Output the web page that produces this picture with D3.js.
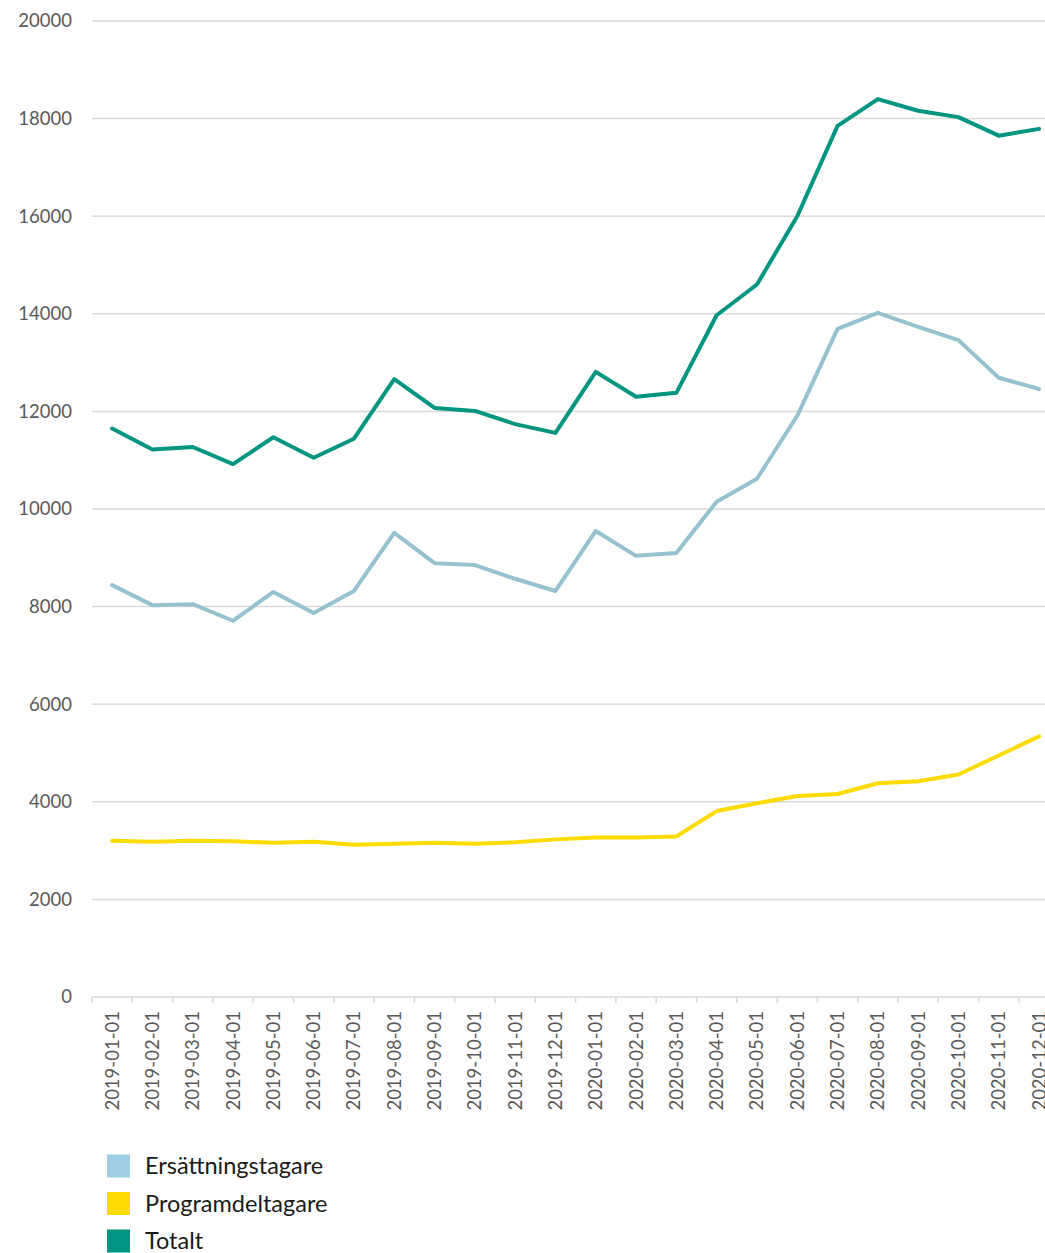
<!DOCTYPE html>
<html>
<head>
<meta charset="utf-8">
<script src="https://cdn.jsdelivr.net/npm/d3@7"></script>
<style>
  body { margin: 0; background: #fff; font-family: Lato, "Open Sans", sans-serif; }
  svg { display: block; }
</style>
</head>
<body>
<div id="chart"></div>
<script>
//******************************************************************************
//**  Data
//******************************************************************************
var months = [
    "2019-01-01","2019-02-01","2019-03-01","2019-04-01","2019-05-01","2019-06-01",
    "2019-07-01","2019-08-01","2019-09-01","2019-10-01","2019-11-01","2019-12-01",
    "2020-01-01","2020-02-01","2020-03-01","2020-04-01","2020-05-01","2020-06-01",
    "2020-07-01","2020-08-01","2020-09-01","2020-10-01","2020-11-01","2020-12-01"
];
var ersattningstagare = [
    8440, 8030, 8050, 7710, 8300, 7870, 8320, 9510, 8890, 8850, 8570, 8320,
    9550, 9040, 9100, 10150, 10620, 11910, 13690, 14020, 13730, 13460, 12690, 12460
];
var programdeltagare = [
    3200, 3180, 3200, 3190, 3160, 3180, 3120, 3140, 3160, 3140, 3170, 3230,
    3270, 3270, 3290, 3810, 3970, 4120, 4160, 4380, 4420, 4560, 4950, 5340
];
var totalt = [
    11650, 11220, 11270, 10920, 11470, 11050, 11440, 12660, 12070, 12010, 11740, 11560,
    12810, 12300, 12380, 13970, 14600, 16000, 17850, 18400, 18160, 18030, 17650, 17790
];
var yTicks = [0, 2000, 4000, 6000, 8000, 10000, 12000, 14000, 16000, 18000, 20000];

var series = [
    {name: "Ersättningstagare", values: ersattningstagare, color: "#96c2d0", swatch: "#9ecde4"},
    {name: "Programdeltagare", values: programdeltagare, color: "#fddb00", swatch: "#fddb00"},
    {name: "Totalt", values: totalt, color: "#009580", swatch: "#009580"}
];


//******************************************************************************
//**  Chart
//******************************************************************************
var width = 1045, height = 1253;
var plotLeft = 92, plotTop = 21, plotBottom = 997;
var bandWidth = 40.3;

var svg = d3.select("#chart").append("svg")
    .attr("width", width)
    .attr("height", height);

var x = d3.scaleBand()
    .domain(months)
    .range([plotLeft, plotLeft + bandWidth * months.length])
    .paddingInner(0).paddingOuter(0);

var y = d3.scaleLinear()
    .domain([0, 20000])
    .range([plotBottom, plotTop]);

// gridlines
svg.append("g")
    .selectAll("line")
    .data(yTicks.filter(function(d){ return d > 0; }))
    .join("line")
    .attr("x1", plotLeft).attr("x2", width)
    .attr("y1", function(d){ return y(d); })
    .attr("y2", function(d){ return y(d); })
    .attr("stroke", "#d9d9d9")
    .attr("stroke-width", 1.5);

// y labels
svg.append("g")
    .selectAll("text")
    .data(yTicks)
    .join("text")
    .attr("x", 72)
    .attr("y", function(d){ return y(d); })
    .attr("dy", "0.35em")
    .attr("text-anchor", "end")
    .attr("fill", "#595959")
    .style("font-size", "18.5px")
    .text(function(d){ return d; });

// x axis
var xAxis = svg.append("g");
xAxis.append("line")
    .attr("x1", plotLeft).attr("x2", width)
    .attr("y1", plotBottom).attr("y2", plotBottom)
    .attr("stroke", "#d9d9d9")
    .attr("stroke-width", 1.5);

xAxis.selectAll("line.tick")
    .data(months)
    .join("line")
    .attr("class", "tick")
    .attr("x1", function(d){ return x(d); })
    .attr("x2", function(d){ return x(d); })
    .attr("y1", plotBottom).attr("y2", plotBottom + 6)
    .attr("stroke", "#d9d9d9")
    .attr("stroke-width", 1.5);

xAxis.selectAll("text")
    .data(months)
    .join("text")
    .attr("transform", function(d){
        return "translate(" + (x(d) + x.bandwidth()/2) + "," + (plotBottom + 14) + ") rotate(-90)";
    })
    .attr("dy", "0.35em")
    .attr("text-anchor", "end")
    .attr("fill", "#595959")
    .style("font-size", "18.5px")
    .text(function(d){ return d; });

// lines
var line = d3.line()
    .x(function(d, i){ return x(months[i]) + x.bandwidth()/2; })
    .y(function(d){ return y(d); });

svg.append("g")
    .selectAll("path")
    .data(series)
    .join("path")
    .attr("d", function(s){ return line(s.values); })
    .attr("fill", "none")
    .attr("stroke", function(s){ return s.color; })
    .attr("stroke-width", 4)
    .attr("stroke-linejoin", "round")
    .attr("stroke-linecap", "round");

// legend
var legend = svg.append("g")
    .selectAll("g")
    .data(series)
    .join("g")
    .attr("transform", function(d, i){ return "translate(107," + (1166 + i * 37.5) + ")"; });

legend.append("rect")
    .attr("x", 0).attr("y", -11.5)
    .attr("width", 23).attr("height", 23)
    .attr("fill", function(d){ return d.swatch; });

legend.append("text")
    .attr("x", 38)
    .attr("dy", "0.35em")
    .attr("fill", "#1a1a1a")
    .style("font-size", "23.5px")
    .text(function(d){ return d.name; });
</script>
</body>
</html>
